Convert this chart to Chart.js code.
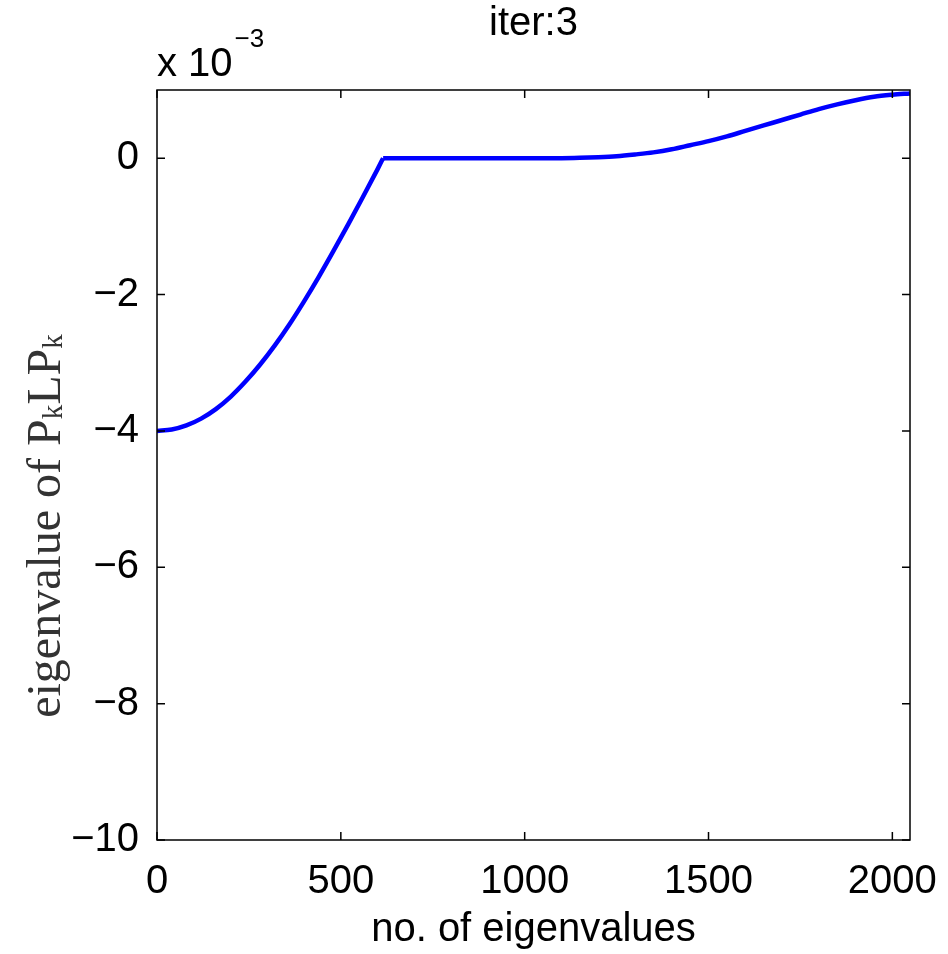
<!DOCTYPE html>
<html>
<head>
<meta charset="utf-8">
<title>iter:3</title>
<script src="https://cdn.jsdelivr.net/npm/chart.js@4.4.1/dist/chart.umd.min.js"></script>
<style>
  html, body { margin: 0; padding: 0; background: #fff; }
  #eigChart { display: block; }
</style>
</head>
<body>
<canvas id="eigChart" width="948" height="954"></canvas>
<script>
// eigenvalues (x 10^-3), sorted; rising branch up to the kink
const eigIndexLow = [0, 40, 80, 120, 160, 200, 240, 280, 320, 360, 400, 440, 480, 520, 560, 600, 615];
const eigValueLow = [-4.00, -3.98, -3.92, -3.82, -3.68, -3.50, -3.28, -3.03, -2.75, -2.44, -2.10, -1.74, -1.36, -0.97, -0.57, -0.16, 0.00];

// flat part and the slow rise at the end
const eigIndexHigh = [615, 800, 1000, 1100, 1150, 1200, 1250, 1300, 1350, 1400, 1450, 1500, 1550, 1600, 1650, 1700, 1750, 1800, 1850, 1900, 1950, 2000, 2048];
const eigValueHigh = [0.00, 0.00, 0.00, 0.00, 0.005, 0.015, 0.03, 0.055, 0.085, 0.13, 0.19, 0.25, 0.32, 0.40, 0.48, 0.56, 0.64, 0.72, 0.79, 0.85, 0.90, 0.93, 0.95];

const xTickValues = [0, 500, 1000, 1500, 2000];
const yTickValues = [-10, -8, -6, -4, -2, 0];

const SANS = '"Liberation Sans", Arial, Helvetica, sans-serif';
const SERIF = '"Liberation Serif", "Times New Roman", serif';

function toPoints(xs, ys) {
  return xs.map((x, i) => ({ x: x, y: ys[i] }));
}

// box, inward ticks and the text around the axes
const matlabFrame = {
  id: 'matlabFrame',
  afterDatasetsDraw(chart) {
    const { ctx, chartArea: a, scales } = chart;
    const tl = 8;
    ctx.save();
    ctx.strokeStyle = '#000';
    ctx.lineWidth = 1.5;
    ctx.strokeRect(a.left, a.top, a.right - a.left, a.bottom - a.top);
    ctx.beginPath();
    xTickValues.forEach(v => {
      const px = scales.x.getPixelForValue(v);
      ctx.moveTo(px, a.bottom); ctx.lineTo(px, a.bottom - tl);
      ctx.moveTo(px, a.top); ctx.lineTo(px, a.top + tl);
    });
    yTickValues.forEach(v => {
      const py = scales.y.getPixelForValue(v);
      ctx.moveTo(a.left, py); ctx.lineTo(a.left + tl, py);
      ctx.moveTo(a.right, py); ctx.lineTo(a.right - tl, py);
    });
    ctx.stroke();

    ctx.fillStyle = '#000';
    ctx.textBaseline = 'alphabetic';

    // title
    ctx.font = '40px ' + SANS;
    ctx.textAlign = 'center';
    ctx.fillText('iter:3', (a.left + a.right) / 2, 35);

    // x label
    ctx.fillText('no. of eigenvalues', (a.left + a.right) / 2, 941);

    // exponent
    ctx.textAlign = 'left';
    ctx.fillText('x 10', a.left, 76);
    const w10 = ctx.measureText('x 10').width;
    ctx.font = '26px ' + SANS;
    ctx.fillText('\u22123', a.left + w10 + 2, 47);

    // y label, serif with subscripts
    const big = '48px ' + SERIF;
    const small = '29px ' + SERIF;
    const parts = [
      ['eigenvalue of P', big, 0],
      ['k', small, 2],
      ['LP', big, 0],
      ['k', small, 2]
    ];
    let total = 0;
    parts.forEach(p => { ctx.font = p[1]; total += ctx.measureText(p[0]).width; });
    ctx.translate(60, 526);
    ctx.rotate(-Math.PI / 2);
    ctx.fillStyle = '#333';
    let cx = -total / 2;
    parts.forEach(p => {
      ctx.font = p[1];
      ctx.fillText(p[0], cx, p[2]);
      cx += ctx.measureText(p[0]).width;
    });
    ctx.restore();
  }
};

const lineStyle = {
  borderColor: '#0000ff',
  borderWidth: 4.5,
  pointRadius: 0,
  cubicInterpolationMode: 'monotone',
  fill: false
};

new Chart(document.getElementById('eigChart'), {
  type: 'line',
  data: {
    datasets: [
      Object.assign({ label: 'low', data: toPoints(eigIndexLow, eigValueLow) }, lineStyle),
      Object.assign({ label: 'high', data: toPoints(eigIndexHigh, eigValueHigh) }, lineStyle)
    ]
  },
  options: {
    responsive: false,
    animation: false,
    layout: { padding: { top: 90, right: 38, left: 0, bottom: 0 } },
    plugins: {
      legend: { display: false },
      tooltip: { enabled: false }
    },
    scales: {
      x: {
        type: 'linear',
        min: 0,
        max: 2048,
        grid: { display: false },
        border: { display: false },
        afterFit: s => { s.height = 114; },
        afterBuildTicks: s => { s.ticks = xTickValues.map(v => ({ value: v })); },
        ticks: {
          color: '#000',
          padding: 10,
          maxRotation: 0,
          autoSkip: false,
          font: { family: SANS, size: 40 },
          callback: v => String(v)
        }
      },
      y: {
        type: 'linear',
        min: -10,
        max: 1,
        grid: { display: false },
        border: { display: false },
        afterFit: s => { s.width = 157; },
        afterBuildTicks: s => { s.ticks = yTickValues.map(v => ({ value: v })); },
        ticks: {
          color: '#000',
          padding: 10,
          autoSkip: false,
          font: { family: SANS, size: 40 },
          callback: v => (v < 0 ? '\u2212' + Math.abs(v) : String(v))
        }
      }
    }
  },
  plugins: [matlabFrame]
});
</script>
</body>
</html>
